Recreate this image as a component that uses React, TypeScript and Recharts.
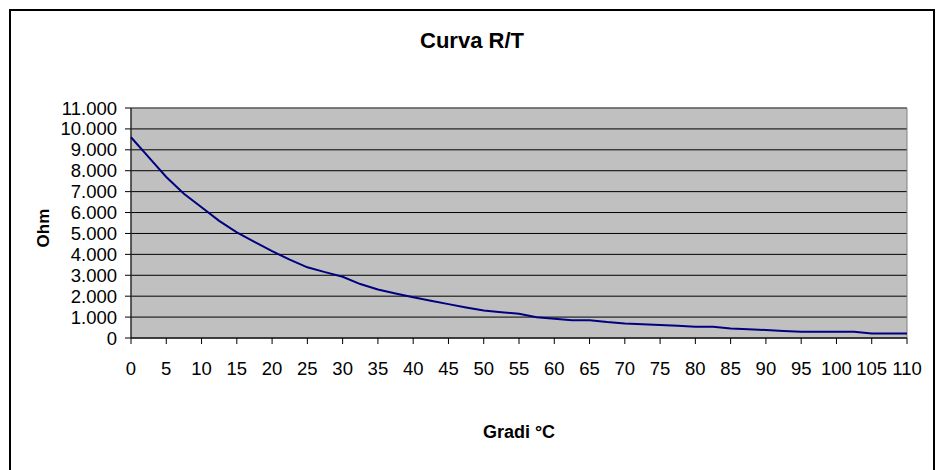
import { LineChart, Line, XAxis, YAxis, CartesianGrid, ReferenceArea, Customized } from 'recharts';

// temperature (°C) and resistance (Ohm)
const temps = [
  0, 2.5, 5, 7.5, 10, 12.5, 15, 17.5, 20, 22.5, 25, 27.5, 30, 32.5, 35, 37.5, 40, 42.5, 45, 47.5,
  50, 52.5, 55, 57.5, 60, 62.5, 65, 67.5, 70, 72.5, 75, 77.5, 80, 82.5, 85, 87.5, 90, 92.5, 95,
  97.5, 100, 102.5, 105, 107.5, 110,
];
const ohms = [
  9600, 8650, 7700, 6900, 6250, 5600, 5050, 4600, 4150, 3750, 3380, 3150, 2930, 2580, 2320, 2130,
  1950, 1780, 1620, 1460, 1310, 1230, 1160, 990, 920, 850, 850, 760, 690, 660, 620, 580, 540, 540,
  460, 420, 380, 340, 300, 300, 300, 300, 220, 220, 220,
];
const xTicks = [0, 5, 10, 15, 20, 25, 30, 35, 40, 45, 50, 55, 60, 65, 70, 75, 80, 85, 90, 95, 100, 105, 110];
const yTicks = [0, 1000, 2000, 3000, 4000, 5000, 6000, 7000, 8000, 9000, 10000, 11000];

const data = temps.map((t, i) => ({ t, r: ohms[i] }));

const font = 'Liberation Sans, Arial, sans-serif';
const fmt = (v: number) => String(v).replace(/\B(?=(\d{3})+(?!\d))/g, '.');

export default function App() {
  return (
    <div style={{ position: 'fixed', left: 0, top: 0, width: 939, height: 470, background: '#fff' }}>
      <LineChart width={939} height={470} data={data} margin={{ top: 108, right: 32, bottom: 0, left: 0 }}>
        <Customized
          component={() => (
            <g>
              <rect x={10} y={10} width={924} height={480} fill="none" stroke="#000" strokeWidth={2} />
              <text x={472} y={48} textAnchor="middle" fontFamily={font} fontWeight="bold" fontSize={22} fill="#000">
                Curva R/T
              </text>
            </g>
          )}
        />
        <CartesianGrid vertical={false} stroke="#000" fill="#C0C0C0" fillOpacity={1} />
        <ReferenceArea x1={0} x2={110} y1={0} y2={11000} fill="none" stroke="#808080" strokeWidth={1} />
        <XAxis
          dataKey="t"
          type="number"
          domain={[0, 110]}
          ticks={xTicks}
          interval={0}
          height={132}
          stroke="#000"
          tickSize={6}
          tickMargin={18}
          tick={{ fill: '#000', fontSize: 18.5, fontFamily: font }}
          label={(p: any) => (
            <text
              x={p.viewBox.x + p.viewBox.width / 2}
              y={p.viewBox.y + 100}
              textAnchor="middle"
              fontFamily={font}
              fontWeight="bold"
              fontSize={18}
              fill="#000"
            >
              Gradi °C
            </text>
          )}
        />
        <YAxis
          type="number"
          domain={[0, 11000]}
          ticks={yTicks}
          interval={0}
          width={131}
          stroke="#000"
          tickSize={6}
          tickMargin={8}
          tickFormatter={fmt}
          tick={{ fill: '#000', fontSize: 18.5, fontFamily: font }}
          label={(p: any) => (
            <text
              x={42.5 + 6}
              y={p.viewBox.y + p.viewBox.height / 2 + 5}
              transform={`rotate(-90 ${42.5 + 6} ${p.viewBox.y + p.viewBox.height / 2 + 5})`}
              textAnchor="middle"
              fontFamily={font}
              fontWeight="bold"
              fontSize={17}
              fill="#000"
            >
              Ohm
            </text>
          )}
        />
        <Line type="linear" dataKey="r" stroke="#000080" strokeWidth={2} dot={false} isAnimationActive={false} />
      </LineChart>
    </div>
  );
}
